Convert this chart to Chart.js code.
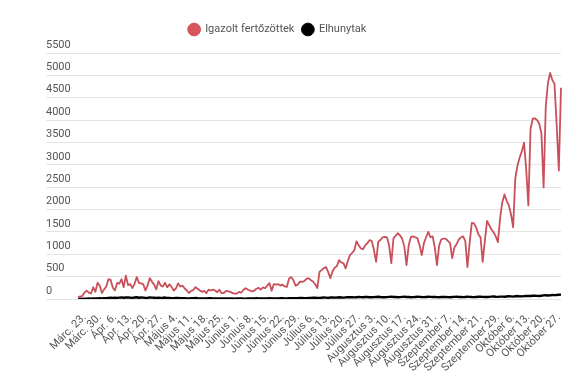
<!DOCTYPE html>
<html>
<head>
<meta charset="utf-8">
<script src="https://cdn.jsdelivr.net/npm/chart.js@4.4.1/dist/chart.umd.min.js"></script>
<style>
  html, body { margin: 0; padding: 0; background: #fff; }
  #wrap { width: 575px; height: 387px; }
</style>
</head>
<body>
<div id="wrap"><canvas id="chart" width="575" height="387"></canvas></div>
<script>
// napi adatok, márc. 20. - okt. 28.
var startDate = [2020, 2, 20];
var monthNames = ['Jan.', 'Febr.', 'Márc.', 'Ápr.', 'Május', 'Június', 'Július',
  'Augusztus', 'Szeptember', 'Október'];

// hetente kiirt cimkek
var tickLabels = ['Márc. 23.', 'Márc. 30.', 'Ápr. 6.', 'Ápr. 13.', 'Ápr. 20.', 'Ápr. 27.',
  'Május 4.', 'Május 11.', 'Május 18.', 'Május 25.', 'Június 1.', 'Június 8.',
  'Június 15.', 'Június 22.', 'Június 29.', 'Július 6.', 'Július 13.', 'Július 20.',
  'Július 27.', 'Augusztus 3.', 'Augusztus 10.', 'Augusztus 17.', 'Augusztus 24.',
  'Augusztus 31.', 'Szeptember 7.', 'Szeptember 14.', 'Szeptember 21.',
  'Szeptember 29.', 'Október 6.', 'Október 13.', 'Október 20.', 'Október 27.'];

// Igazolt fertozottek
var igazolt = [
  31, 59, 66, 143, 186, 144, 123, 263, 160, 363, 294, 136,
  215, 278, 445, 430, 251, 193, 360, 344, 441, 265, 523, 310, 333, 246, 337, 491, 360, 351,
  328, 190, 306, 468, 386, 321, 218, 401, 303, 277, 362, 262,
  327, 271, 190, 235, 350, 280, 300, 240, 190, 135, 180, 200, 265, 230, 190, 160, 180, 130,
  210, 190, 210, 190, 150, 210, 130, 130, 180, 170, 160, 130, 120,
  120, 160, 140, 200, 240, 210, 190, 170, 185, 230, 250, 210, 260, 240, 300, 356, 185, 334,
  320, 330, 300, 320, 280, 270, 460, 490, 420, 300, 320, 390,
  385, 400, 450, 467, 420, 390, 330, 245, 608, 645, 690, 712, 600, 467, 620, 700, 735, 868,
  820, 800, 683, 850, 980, 1030, 1090, 1290, 1200, 1130, 1113, 1200, 1250,
  1314, 1300, 1100, 830, 1276, 1320, 1380, 1390, 1380, 1200, 800, 1358, 1410, 1470, 1420,
  1350, 1165, 757, 1200, 1387, 1400, 1380, 1360, 1200, 980, 1250, 1380, 1500, 1380, 1400, 1150,
  757, 1200, 1336, 1350, 1350, 1300, 1250, 913, 1150, 1225, 1330, 1380, 1400, 1300, 712,
  1250, 1700, 1690, 1600, 1450, 1380, 830, 1300, 1744, 1650, 1560, 1492, 1400, 1270, 1800,
  2160, 2338, 2200, 2093, 1900, 1603, 2700, 2984, 3162, 3300, 3496, 2900, 2093, 3800,
  4031, 4040, 4000, 3920, 3700, 2494, 4300, 4833, 5055, 4900, 4810, 3900, 2873, 4721
];

// Elhunytak
var elhunyt = [
  2, 4, 3, 6, 5, 10, 8, 12, 10, 15, 18, 12,
  20, 18, 25, 30, 22, 28, 26, 30, 35, 28, 32, 36, 30, 25, 33, 40, 28, 32,
  30, 22, 26, 35, 30, 28, 22, 30, 26, 28, 32, 25,
  24, 20, 18, 22, 26, 20, 18, 16, 14, 12, 18, 20, 22, 16, 14, 12, 10, 14,
  18, 16, 14, 12, 10, 12, 14, 10, 12, 14, 10, 12, 8,
  10, 12, 14, 10, 8, 12, 10, 14, 12, 16, 14, 12, 10, 12, 14, 16, 12, 10,
  14, 12, 16, 18, 14, 12, 16, 20, 18, 16, 20, 22,
  24, 20, 18, 22, 26, 28, 30, 26, 24, 28, 32, 30, 26, 34, 36, 30, 32, 38,
  34, 30, 36, 40, 38, 42, 36, 40, 44, 42, 38, 46, 44,
  40, 38, 42, 46, 50, 44, 40, 38, 42, 48, 52, 46, 44, 40, 42, 48, 50, 46,
  44, 40, 42, 46, 50, 48, 44, 42, 46, 50, 48, 44, 46,
  42, 40, 44, 48, 46, 42, 40, 44, 48, 52, 46, 44, 42, 46, 50, 48, 44, 42,
  46, 50, 54, 48, 46, 44, 48, 52, 56, 50, 48, 52,
  54, 50, 56, 60, 58, 54, 62, 66, 60, 58, 64, 70, 68, 66, 72, 76, 70, 68,
  74, 80, 84, 78, 82, 88, 86, 90, 94, 98
];

// napok cimkei
var napok = [];
for (var i = 0; i < igazolt.length; i++) {
  var d = new Date(startDate[0], startDate[1], startDate[2] + i);
  napok.push(monthNames[d.getMonth()] + ' ' + d.getDate() + '.');
}

var betu = "'Roboto', sans-serif";

// hely a jelmagyarazat alatt + kicsit balra
var legendGap = {
  id: 'legendGap',
  beforeInit: function (chart) {
    var fit = chart.legend.fit;
    chart.legend.fit = function () {
      fit.bind(chart.legend)();
      this.height += 8;
    };
  },
  afterLayout: function (chart) {
    chart.legend.left -= 26;
    chart.legend.right -= 26;
  }
};

var grafikon = new Chart(document.getElementById('chart'), {
  type: 'line',
  data: {
    labels: napok,
    datasets: [{
      label: 'Igazolt fertőzöttek',
      data: igazolt,
      borderColor: '#c9505a',
      backgroundColor: '#d9555c',
      borderWidth: 1.8,
      borderJoinStyle: 'round',
      pointRadius: 0,
      tension: 0
    }, {
      label: 'Elhunytak',
      data: elhunyt,
      borderColor: '#000',
      backgroundColor: '#000',
      borderWidth: 2.4,
      borderJoinStyle: 'round',
      pointRadius: 0,
      tension: 0
    }]
  },
  options: {
    responsive: false,
    animation: false,
    devicePixelRatio: 1,
    layout: { padding: { left: 46, right: 14, top: 16, bottom: 0 } },
    plugins: {
      tooltip: { enabled: false },
      legend: {
        position: 'top',
        labels: {
          usePointStyle: true,
          pointStyle: 'circle',
          boxHeight: 9,
          padding: 8,
          color: '#555',
          font: { family: betu, size: 11 },
          generateLabels: function (chart) {
            var items = Chart.defaults.plugins.legend.labels.generateLabels(chart);
            items.forEach(function (it) { it.lineWidth = 1; });
            return items;
          }
        }
      }
    },
    scales: {
      x: {
        offset: false,
        grid: { display: false },
        border: { display: false },
        ticks: {
          autoSkip: false,
          minRotation: 45,
          maxRotation: 45,
          padding: 4,
          color: '#555',
          font: { family: betu, size: 11 },
          callback: function (v) {
            var l = this.getLabelForValue(v);
            return tickLabels.indexOf(l) >= 0 ? l : null;
          }
        },
        afterFit: function (s) { s.height = 88; }
      },
      y: {
        min: 0,
        max: 5500,
        border: { display: false },
        grid: { color: '#e4e4e4', tickLength: 32 },
        ticks: {
          stepSize: 500,
          crossAlign: 'far',
          labelOffset: -8,
          color: '#555',
          font: { family: betu, size: 11 },
          callback: function (v) { return String(v); }
        },
        afterFit: function (s) { s.width = 32; }
      }
    }
  },
  plugins: [legendGap]
});
</script>
</body>
</html>
